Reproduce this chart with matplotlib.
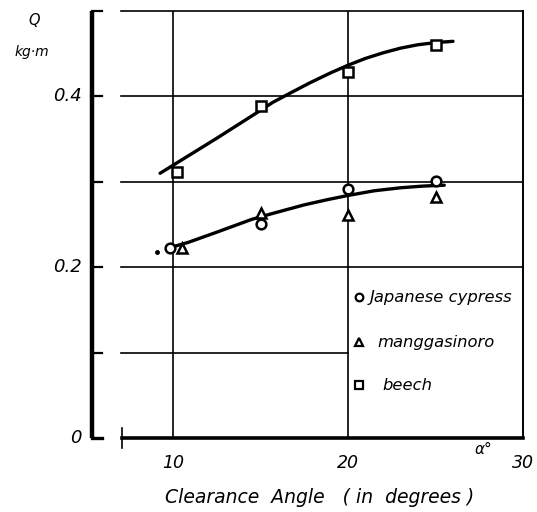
import matplotlib.pyplot as plt

cypress_x = [9.85, 15, 20, 25]
cypress_q = [0.222, 0.251, 0.292, 0.301]
mangga_x = [10.5, 15, 20, 25]
mangga_q = [0.222, 0.264, 0.261, 0.282]
beech_x = [10.2, 15, 20, 25]
beech_q = [0.311, 0.389, 0.428, 0.460]

# hand-drawn trend curves, read at a few points
beech_curve_x = [9.26, 11.0, 12.5, 14.57, 15.7, 16.8, 17.83, 19.0, 20.0, 21.0, 22.0, 23.0, 24.0, 25.0, 26.0]
beech_curve_q = [0.310, 0.332, 0.351, 0.378, 0.393, 0.405, 0.416, 0.4275, 0.4365, 0.4445, 0.451, 0.4565, 0.4605, 0.463, 0.4645]
low_curve_x = [10.0, 10.86, 12.5, 14.5, 15.7, 16.6, 17.5, 18.8, 20.0, 21.5, 23.0, 24.3, 25.5]
low_curve_q = [0.224, 0.229, 0.241, 0.256, 0.263, 0.268, 0.273, 0.279, 0.284, 0.2895, 0.293, 0.295, 0.296]

legend_labels = ['Japanese cypress', 'manggasinoro', 'beech']
x_ticks = [10, 20, 30]
y_labels = {0.0: '0', 0.2: '0.2', 0.4: '0.4'}

XMIN, XMAX = 5.37, 30
YMIN, YMAX = 0.0, 0.5
GX0 = 7.0  # where grid / x axis start

plt.rcParams['font.family'] = 'DejaVu Sans'
fig = plt.figure(figsize=(5.37, 5.12), dpi=100)
ax = fig.add_axes([92 / 537, 1 - 438 / 512, (523 - 92) / 537, (438 - 11) / 512])
ax.set_xlim(XMIN, XMAX)
ax.set_ylim(YMIN, YMAX)
for s in ax.spines.values():
    s.set_visible(False)
ax.set_xticks([])
ax.set_yticks([])

k = 'black'
# left spine (heavy) and its short ticks
ax.plot([XMIN, XMIN], [0, 0.5], color=k, lw=3.2, solid_capstyle='butt', clip_on=False)
for yv in [0.0, 0.1, 0.2, 0.3, 0.4, 0.5]:
    ax.plot([XMIN, XMIN + 0.6], [yv, yv], color=k, lw=1.6 if yv else 2.4, clip_on=False)
# x axis
ax.plot([GX0 + 0.1, XMAX], [0, 0], color=k, lw=2.6, clip_on=False)
ax.plot([GX0 + 0.1, GX0 + 0.1], [-0.012, 0.012], color=k, lw=1.2, clip_on=False)
# grid
for yv in [0.2, 0.3, 0.4, 0.5]:
    ax.plot([GX0, XMAX], [yv, yv], color=k, lw=1.2, clip_on=False)
ax.plot([GX0, 20], [0.1, 0.1], color=k, lw=1.2)
for xv in [10, 20]:
    ax.plot([xv, xv], [0, 0.5], color=k, lw=1.2)
ax.plot([XMAX, XMAX], [0, 0.5], color=k, lw=1.4, clip_on=False)

# curves
ax.plot(beech_curve_x, beech_curve_q, color=k, lw=2.4, solid_capstyle='round',
        solid_joinstyle='round')
ax.plot(low_curve_x, low_curve_q, color=k, lw=2.4, solid_capstyle='round',
        solid_joinstyle='round')
ax.plot([9.1], [0.2175], 'o', color=k, ms=2.5)

mk = dict(color=k, mfc='white', mew=1.8, ls='none', zorder=5)
ax.plot(cypress_x, cypress_q, marker='o', ms=7, **mk)
ax.plot(mangga_x, mangga_q, marker='^', ms=7, **mk)
ax.plot(beech_x, beech_q, marker='s', ms=7, **mk)

# legend inside the lower-right grid cell
leg_y = [0.165, 0.112, 0.062]
leg_text_x = [21.25, 21.66, 21.94]
for lab, m, yv, tx in zip(legend_labels, ['o', '^', 's'], leg_y, leg_text_x):
    ax.plot([20.65], [yv], marker=m, ms=5.5, color=k, mfc='white', mew=1.6, ls='none')
    ax.text(tx, yv, lab, fontsize=11.8, style='italic', va='center', ha='left')

# tick labels
for yv, lab in y_labels.items():
    ax.text(XMIN - 0.6, yv, lab, fontsize=13, style='italic', ha='right', va='center')
for xv in x_ticks:
    ax.text(xv, -0.029, str(xv), fontsize=12.5, style='italic', ha='center', va='center')

ax.text(2.06, 0.489, 'Q', fontsize=10.5, style='italic', ha='center', va='center', clip_on=False)
ax.text(1.94, 0.4515, 'kg·m', fontsize=10, style='italic', ha='center', va='center', clip_on=False)
ax.text(27.75, -0.014, 'α°', fontsize=11, style='italic', ha='center', va='center')
ax.text(18.4, -0.070, 'Clearance  Angle   ( in  degrees )', fontsize=13.5, style='italic',
        ha='center', va='center')

fig.savefig('out.png', dpi=100)
